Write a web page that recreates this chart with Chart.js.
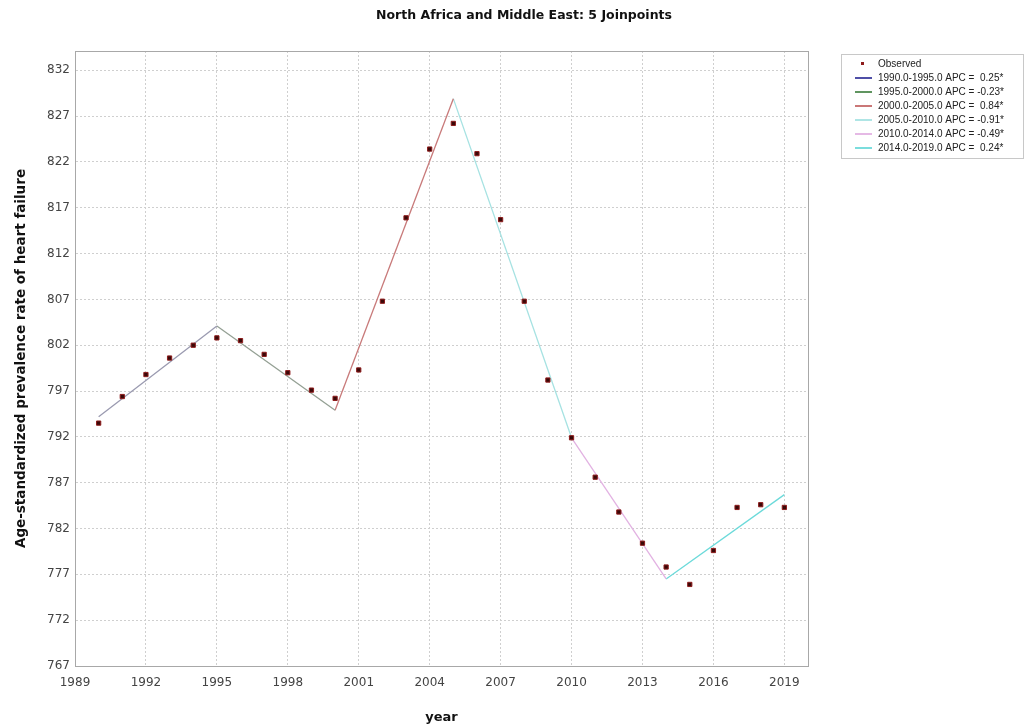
<!DOCTYPE html>
<html>
<head>
<meta charset="utf-8">
<script src="https://cdn.jsdelivr.net/npm/chart.js@4.4.0/dist/chart.umd.min.js"></script>
<style>
  body { margin: 0; background: #fff; }
  #wrap { width: 1029px; height: 728px; position: relative; }
</style>
</head>
<body>
<div id="wrap"><canvas id="chart"></canvas></div>
<script>
// observed rates, one per year
const years = [1990, 1991, 1992, 1993, 1994, 1995, 1996, 1997, 1998, 1999,
  2000, 2001, 2002, 2003, 2004, 2005, 2006, 2007, 2008, 2009,
  2010, 2011, 2012, 2013, 2014, 2015, 2016, 2017, 2018, 2019];
const observed = [793.5, 796.4, 798.8, 800.6, 802.0, 802.8, 802.5, 801.0, 799.0, 797.1,
  796.2, 799.3, 806.8, 815.9, 823.4, 826.2, 822.9, 815.7, 806.8, 798.2,
  791.9, 787.6, 783.8, 780.4, 777.8, 775.9, 779.6, 784.3, 784.6, 784.3];

// joinpoint model: segment ends and fitted values there
const joinYears = [1990, 1995, 2000, 2005, 2010, 2014, 2019];
const joinFit = [794.2, 804.1, 794.9, 828.9, 791.9, 776.5, 785.7];
const segLabels = [
  "1990.0-1995.0 APC =  0.25*",
  "1995.0-2000.0 APC = -0.23*",
  "2000.0-2005.0 APC =  0.84*",
  "2005.0-2010.0 APC = -0.91*",
  "2010.0-2014.0 APC = -0.49*",
  "2014.0-2019.0 APC =  0.24*"
];
const segColors = ["#3b3b9e", "#4e8a4e", "#c46868", "#a6e2e2", "#e2b2e2", "#6cdada"];
const lineColors = ["#9a9ab0", "#94a094", "#c87a7a", "#a6e2e2", "#e2b2e2", "#6cdada"];

const xTicks = [1989, 1992, 1995, 1998, 2001, 2004, 2007, 2010, 2013, 2016, 2019];
const yTicks = [767, 772, 777, 782, 787, 792, 797, 802, 807, 812, 817, 822, 827, 832];

let datasets = [];
datasets.push({
  label: "Observed",
  type: "scatter",
  data: years.map((y, i) => ({ x: y, y: observed[i] })),
  pointStyle: "rect",
  pointRadius: 3,
  borderWidth: 1,
  borderColor: "#8e1c1c",
  backgroundColor: "#3a0808",
  order: 0
});
for (let i = 0; i < segLabels.length; i++) {
  datasets.push({
    label: segLabels[i],
    type: "line",
    data: [{ x: joinYears[i], y: joinFit[i] }, { x: joinYears[i + 1], y: joinFit[i + 1] }],
    borderColor: lineColors[i],
    legendColor: segColors[i],
    borderWidth: 1.3,
    pointRadius: 0,
    fill: false,
    order: 1
  });
}

//frame, title and legend box
const extras = {
  id: "extras",
  afterDraw(chart) {
    const ctx = chart.ctx;
    const a = chart.chartArea;
    ctx.save();
    ctx.strokeStyle = "#a8a8a8";
    ctx.lineWidth = 1;
    ctx.strokeRect(a.left + 0.5, a.top + 0.5, a.right - a.left, a.bottom - a.top);

    ctx.fillStyle = "#111";
    ctx.font = "bold 12.5px 'DejaVu Sans'";
    ctx.textAlign = "center";
    ctx.textBaseline = "middle";
    ctx.fillText("North Africa and Middle East: 5 Joinpoints", 524, 16);

    // legend
    const bx = 841, by = 54, bw = 182, bh = 104;
    ctx.strokeStyle = "#c8c8c8";
    ctx.strokeRect(bx + 0.5, by + 0.5, bw, bh);
    ctx.font = "10px 'Liberation Sans'";
    ctx.textAlign = "left";
    chart.data.datasets.forEach((ds, i) => {
      const y = 64 + i * 14;
      if (i == 0) {
        ctx.fillStyle = "#8e1c1c";
        ctx.fillRect(861, y - 2, 3, 3);
      } else {
        ctx.strokeStyle = ds.legendColor;
        ctx.lineWidth = 1.8;
        ctx.beginPath();
        ctx.moveTo(855, y);
        ctx.lineTo(872, y);
        ctx.stroke();
      }
      ctx.fillStyle = "#222";
      ctx.fillText(ds.label, 878, y);
    });
    ctx.restore();
  }
};

new Chart(document.getElementById("chart"), {
  type: "scatter",
  data: { datasets: datasets },
  plugins: [extras],
  options: {
    responsive: true,
    maintainAspectRatio: false,
    animation: false,
    layout: { padding: { top: 51, right: 221, left: 0, bottom: 0 } },
    plugins: {
      legend: { display: false },
      tooltip: { enabled: false },
      title: { display: false }
    },
    scales: {
      x: {
        type: "linear",
        min: 1989,
        max: 2020,
        afterBuildTicks: (s) => { s.ticks = xTicks.map(v => ({ value: v })); },
        afterFit: (s) => { s.height = 62; },
        ticks: {
          font: { family: "DejaVu Sans", size: 12 },
          color: "#444",
          padding: 10,
          callback: (v) => String(v)
        },
        grid: { color: "#cfcfcf", drawTicks: false },
        border: { color: "#a8a8a8", dash: [2, 2] },
        title: {
          display: true,
          text: "year",
          font: { family: "DejaVu Sans", size: 13, weight: "bold" },
          color: "#111",
          padding: { top: 0, bottom: 3 }
        }
      },
      y: {
        min: 767,
        max: 834.1,
        afterBuildTicks: (s) => { s.ticks = yTicks.map(v => ({ value: v })); },
        afterFit: (s) => { s.width = 75; },
        ticks: {
          font: { family: "DejaVu Sans", size: 12 },
          color: "#444",
          padding: 5
        },
        grid: { color: "#cfcfcf", drawTicks: false },
        border: { color: "#a8a8a8", dash: [2, 2] },
        title: {
          display: true,
          text: "Age-standardized prevalence rate of heart failure",
          font: { family: "DejaVu Sans", size: 13.5, weight: "bold" },
          color: "#111",
          padding: { top: 13, bottom: 0 }
        }
      }
    }
  }
});
</script>
</body>
</html>
